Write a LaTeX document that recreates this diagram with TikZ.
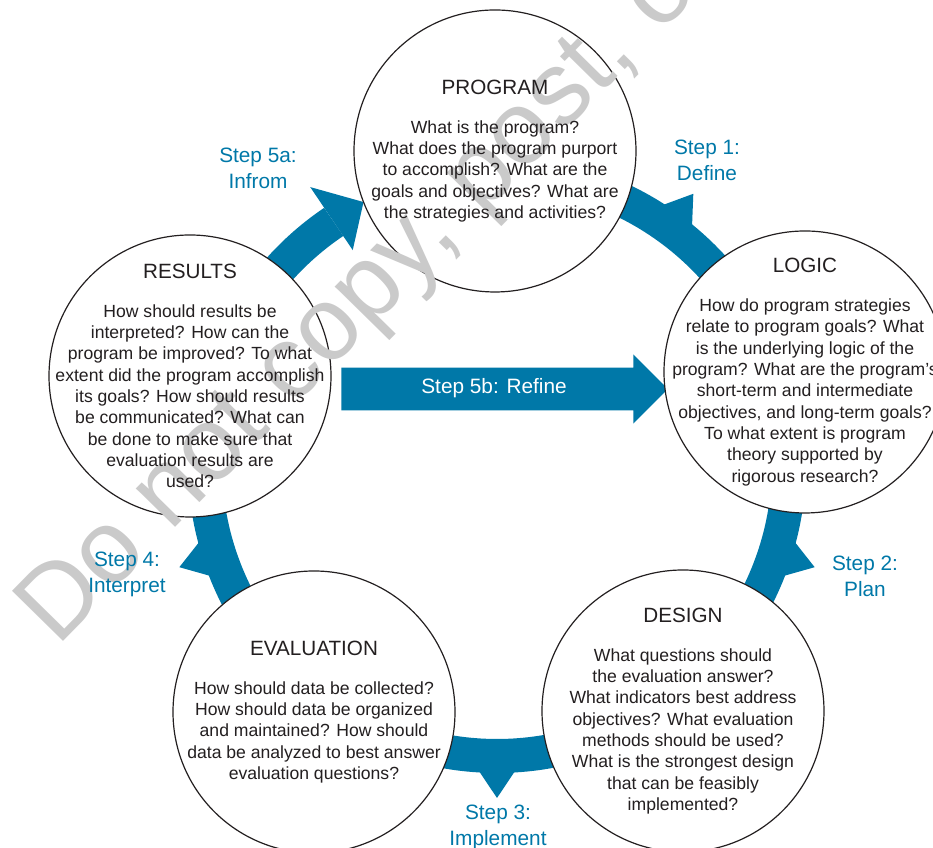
\documentclass[tikz,border=0pt]{standalone}
\usepackage{fontspec}
\setmainfont{Liberation Sans}
\usetikzlibrary{shapes.arrows}
\definecolor{cycleblue}{RGB}{0,120,168}
\definecolor{inkgrey}{RGB}{35,31,32}
\definecolor{markgrey}{RGB}{202,202,202}
\tikzset{
  stage/.style={circle, draw=inkgrey, line width=0.9pt, fill=white, minimum size=211.5pt, inner sep=0pt},
  stagetext/.style={align=center, text=inkgrey, font=\fontsize{13.2}{16}\selectfont, inner sep=0pt},
  steplabel/.style={align=center, text=cycleblue, font=\fontsize{15.6}{19.5}\selectfont, inner sep=0pt},
  band/.style={draw=cycleblue, line width=25.5pt},
  refinearrow/.style={single arrow, fill=cycleblue, text=white, font=\fontsize{15.6}{19.5}\selectfont,
    minimum height=245pt, text height=11pt, text depth=3.5pt, inner ysep=8.5pt, inner xsep=0pt,
    single arrow head extend=10pt, single arrow tip angle=90},
  watermark/.style={anchor=base west, rotate=45.5, text=markgrey, font=\fontsize{78}{78}\selectfont, inner sep=0pt},
}
\newcommand{\stagehead}[1]{{\fontsize{15.5}{18}\selectfont #1}\\[13pt]}

\begin{document}
\begin{tikzpicture}[x=0.75pt, y=0.75pt]
        \useasboundingbox (0,0) rectangle (933,848);
        \coordinate (hub) at (497,384);
        % bands
        \foreach \a/\b/\m in {90/18/54, 18/-54/-18, -54/-126/-90, -126/-198/-162}{
          \draw[band] ([shift={(\a:292)}]hub) arc[start angle=\a, end angle=\b, radius=292];
          \fill[cycleblue] ([shift={(\m+3.3:308)}]hub) -- ([shift={(\m:334)}]hub) -- ([shift={(\m-3.3:308)}]hub) -- cycle;
        }
        \draw[band] ([shift={(162:292)}]hub) arc[start angle=162, end angle=124, radius=292];
        \fill[cycleblue] ([shift={(124:334)}]hub) -- ([shift={(117:294)}]hub) -- ([shift={(124:258)}]hub) -- cycle;
        \node[refinearrow] (refine) at (494,459) {Step 5b: Refine};
        % nodes
        \node[stage] (program) at (495,697) {};
        \node[stage] (logic) at (805,476) {};
        \node[stage] (design) at (683,137) {};
        \node[stage] (evaluation) at (314,136) {};
        \node[stage] (results) at (190,472) {};
        \node[watermark] (mark) at (57,200) {Do not copy, post, or distribute};
        % texts
        \node[stagetext] (programtext) at (program) {\stagehead{PROGRAM}What is the program?\\What does the program purport\\to accomplish? What are the\\goals and objectives? What are\\the strategies and activities?};
        \node[stagetext] (logictext) at (logic) {\stagehead{LOGIC}How do program strategies\\relate to program goals? What\\is the underlying logic of the\\program? What are the program’s\\short-term and intermediate\\objectives, and long-term goals?\\To what extent is program\\theory supported by\\rigorous research?};
        \node[stagetext] (designtext) at (design) {\stagehead{DESIGN}What questions should\\the evaluation answer?\\What indicators best address\\objectives? What evaluation\\methods should be used?\\What is the strongest design\\that can be feasibly\\implemented?};
        \node[stagetext] (evaluationtext) at (evaluation) {\stagehead{EVALUATION}How should data be collected?\\How should data be organized\\and maintained? How should\\data be analyzed to best answer\\evaluation questions?};
        \node[stagetext] (resultstext) at (results) {\stagehead{RESULTS}How should results be\\interpreted? How can the\\program be improved? To what\\extent did the program accomplish\\its goals? How should results\\be communicated? What can\\be done to make sure that\\evaluation results are\\used?};
        % step labels
        \node[steplabel] (define) at (707,688) {Step 1:\\Define};
        \node[steplabel] (plan) at (865,272) {Step 2:\\Plan};
        \node[steplabel] (implement) at (498,21) {Step 3:\\Implement};
        \node[steplabel] (interpret) at (127,274) {Step 4:\\Interpret};
        \node[steplabel] (inform) at (258,680) {Step 5a:\\Infrom};
      \end{tikzpicture}
\end{document}
